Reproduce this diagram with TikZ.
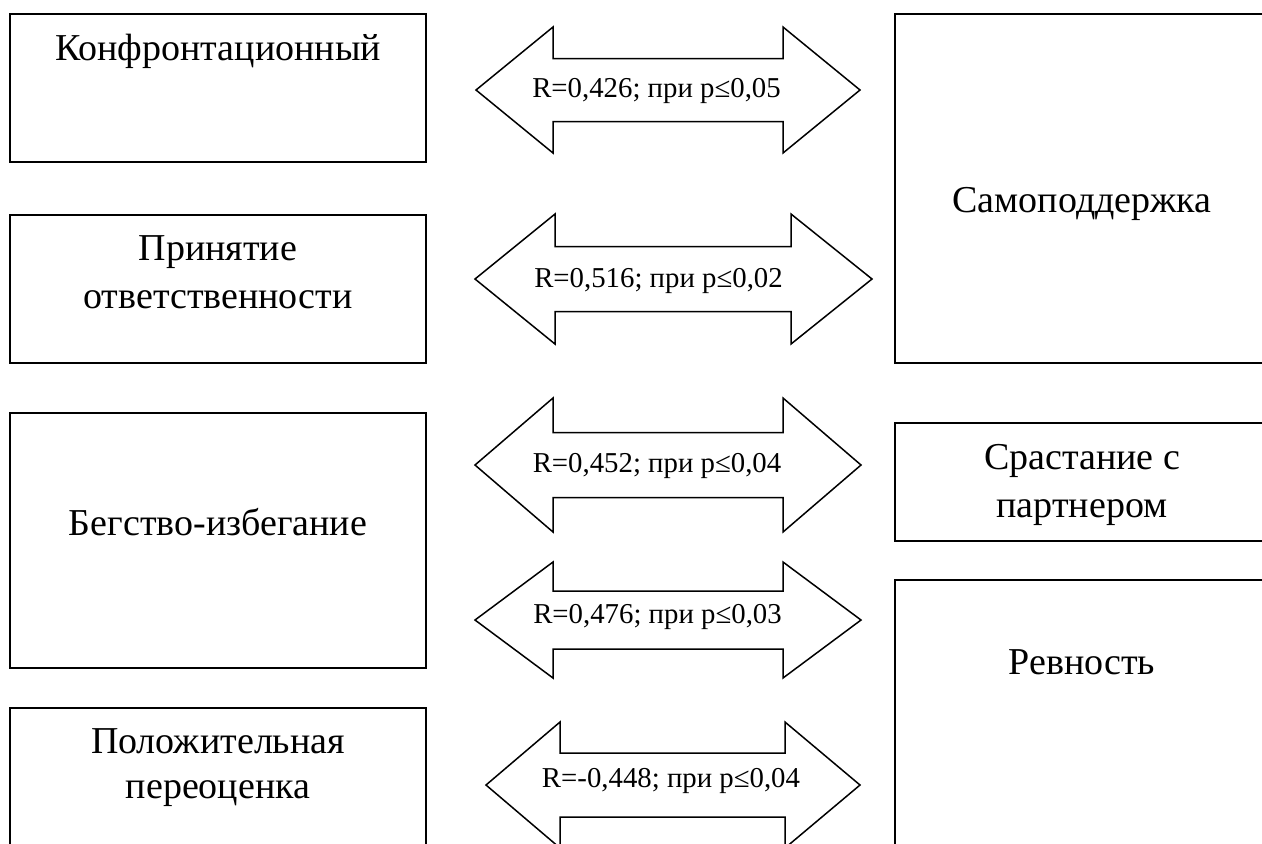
\documentclass[tikz,border=0pt]{standalone}
\usepackage{fontspec}
\setmainfont{Liberation Serif}
\usetikzlibrary{positioning}
% block arrow: left tip, left head base, right head base, right tip, centre y, head half, shaft half
\newcommand{\corrarrow}[7]{%
  \draw[arrowbox] (#1,#5) -- (#2,#5-#6) -- (#2,#5-#7) -- (#3,#5-#7) -- (#3,#5-#6) -- (#4,#5)
    -- (#3,#5+#6) -- (#3,#5+#7) -- (#2,#5+#7) -- (#2,#5+#6) -- cycle;}

\begin{document}
\begin{tikzpicture}[x=0.5pt, y=-0.5pt, every node/.style={font=\fontsize{19}{24}\selectfont},
  box/.style={draw, line width=1pt, minimum width=208pt, inner sep=0pt},
  rbox/.style={draw, line width=1pt, minimum width=187.5pt, inner sep=0pt},
  txt/.style={anchor=base, inner sep=0pt},
  rtxt/.style={anchor=base, inner sep=0pt, font=\fontsize{14.4}{17}\selectfont},
  arrowbox/.style={draw, line width=0.75pt, line join=miter}]
  \useasboundingbox (0,0) rectangle (1262,843);
  % coping strategies (left)
  \node[box, minimum height=74pt] (konf) at (218,88) {};
  \node[txt] (konfT) at (218,60) {Конфронтационный};
  \node[box, minimum height=74pt] (prin) at (218,289) {};
  \node[txt] (prinT) at (218,260) {Принятие};
  \node[txt] (prinT2) at (218,308) {ответственности};
  \node[box, minimum height=127.5pt] (beg) at (218,540.5) {};
  \node[txt] (begT) at (218,535) {Бегство-избегание};
  \node[box, minimum height=91pt] (pol) at (218,799) {};
  \node[txt] (polT) at (218,753) {Положительная};
  \node[txt] (polT2) at (218,798) {переоценка};
  % partner scales (right)
  \node[rbox, minimum height=174.5pt] (sam) at (1082.5,188.5) {};
  \node[txt] (samT) at (1082,212) {Самоподдержка};
  \node[rbox, minimum height=59pt] (sra) at (1082.5,482) {};
  \node[txt] (sraT) at (1082,469) {Срастание с};
  \node[txt] (sraT2) at (1082,517) {партнером};
  \node[rbox, minimum height=160pt] (rev) at (1082.5,740) {};
  \node[txt] (revT) at (1082,674) {Ревность};
  % correlations
  \corrarrow{476}{553}{783}{860}{90}{63}{31.5}
  \node[rtxt] (r1) at (656.5,97) {R=0,426; при p≤0,05};
  \corrarrow{475}{555}{791}{872}{279}{65}{32.5}
  \node[rtxt] (r2) at (658.5,287) {R=0,516; при p≤0,02};
  \corrarrow{475}{553}{783}{861}{465}{67}{32.5}
  \node[rtxt] (r3) at (657,472) {R=0,452; при p≤0,04};
  \corrarrow{475}{553}{783}{861}{620}{58}{29}
  \node[rtxt] (r4) at (657.5,623) {R=0,476; при p≤0,03};
  \corrarrow{486}{560}{785}{860}{785}{63}{32}
  \node[rtxt] (r5) at (671,787) {R=-0,448; при p≤0,04};
\end{tikzpicture}
\end{document}
